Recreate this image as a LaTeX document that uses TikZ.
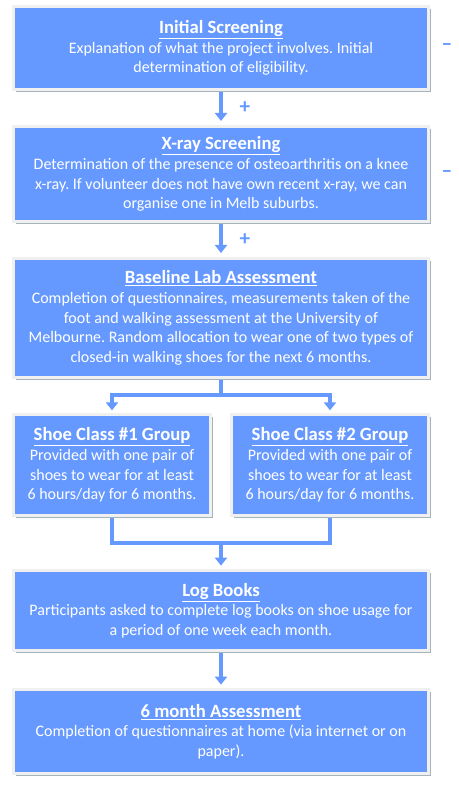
\documentclass[tikz,border=0pt]{standalone}
\usepackage{fontspec}
\setmainfont{Carlito}
\usetikzlibrary{arrows.meta,shadows,backgrounds}
\definecolor{fcblue}{HTML}{6699FF}
\definecolor{fcedge}{HTML}{F0F0F0}
\definecolor{fcshadow}{HTML}{A3B4BD}
\frenchspacing

\newcommand{\stagetitle}[1]{{\fontsize{14}{15}\selectfont\bfseries\underline{#1}}}

\begin{document}
\begin{tikzpicture}[x=0.75pt,y=-0.75pt,>={Triangle[width=9pt,length=6pt]},
  stage/.style={fill=fcblue,draw=fcedge,line width=2.25pt,text=white,align=center,
    font=\fontsize{12}{14.8}\selectfont,minimum width=311.25pt,
    drop shadow={shadow xshift=2pt,shadow yshift=-2pt,fill=fcshadow,opacity=1}},
  half/.style={stage,minimum width=147.75pt},
  flow/.style={fcblue,line width=2.75pt},
  sign/.style={text=fcblue,font=\fontsize{16}{18}\selectfont\bfseries}]
  \useasboundingbox (0,0) rectangle (458,791);

  % stages
  \node[stage,minimum height=62.25pt] (init) at (221,48)
    {\stagetitle{Initial Screening}\\Explanation of what the project involves. Initial\\determination of eligibility.};
  \node[stage,minimum height=71.25pt] (xray) at (221,174)
    {\stagetitle{X-ray Screening}\\Determination of the presence of osteoarthritis on a knee\\x-ray. If volunteer does not have own recent x-ray, we can\\organise one in Melb suburbs.};
  \node[stage,minimum height=89.25pt] (base) at (221,318)
    {\stagetitle{Baseline Lab Assessment}\\Completion of questionnaires, measurements taken of the\\foot and walking assessment at the University of\\Melbourne. Random allocation to wear one of two types of\\closed-in walking shoes for the next 6 months.};
  \node[half,minimum height=75.75pt] (shoeA) at (112,465)
    {\stagetitle{Shoe Class \#1 Group}\\Provided with one pair of\\shoes to wear for at least\\6 hours/day for 6 months.};
  \node[half,minimum height=75.75pt] (shoeB) at (330,465)
    {\stagetitle{Shoe Class \#2 Group}\\Provided with one pair of\\shoes to wear for at least\\6 hours/day for 6 months.};
  \node[stage,minimum height=60pt] (logs) at (221,610.5)
    {\stagetitle{Log Books}\\Participants asked to complete log books on shoe usage for\\a period of one week each month.};
  \node[stage,minimum height=63pt] (final) at (221,731.5)
    {\stagetitle{6 month Assessment}\\Completion of questionnaires at home (via internet or on\\paper).};

  % signs
  \node[sign] (plusA) at (245,108) {+};
  \node[sign] (plusB) at (245,240) {+};
  \node[sign] (minusA) at (447,47) {\textendash};
  \node[sign] (minusB) at (447,174) {\textendash};

  \coordinate (split) at (221,395);
  \coordinate (join) at (221,543);

  % connectors
  \begin{scope}[on background layer]
    \draw[flow,->,shorten >=3pt] (init.south) -- (xray.north);
    \draw[flow,->,shorten >=3pt] (xray.south) -- (base.north);
    \draw[flow] (base.south) -- (split);
    \draw[flow,->,shorten >=2pt] (split) -| (shoeA.north);
    \draw[flow,->,shorten >=2pt] (split) -| (shoeB.north);
    \draw[flow] (shoeA.south) |- (join) -| (shoeB.south);
    \draw[flow,->,shorten >=2.5pt] (join) -- (logs.north);
    \draw[flow,->,shorten >=2.5pt] (logs.south) -- (final.north);
  \end{scope}
\end{tikzpicture}
\end{document}
